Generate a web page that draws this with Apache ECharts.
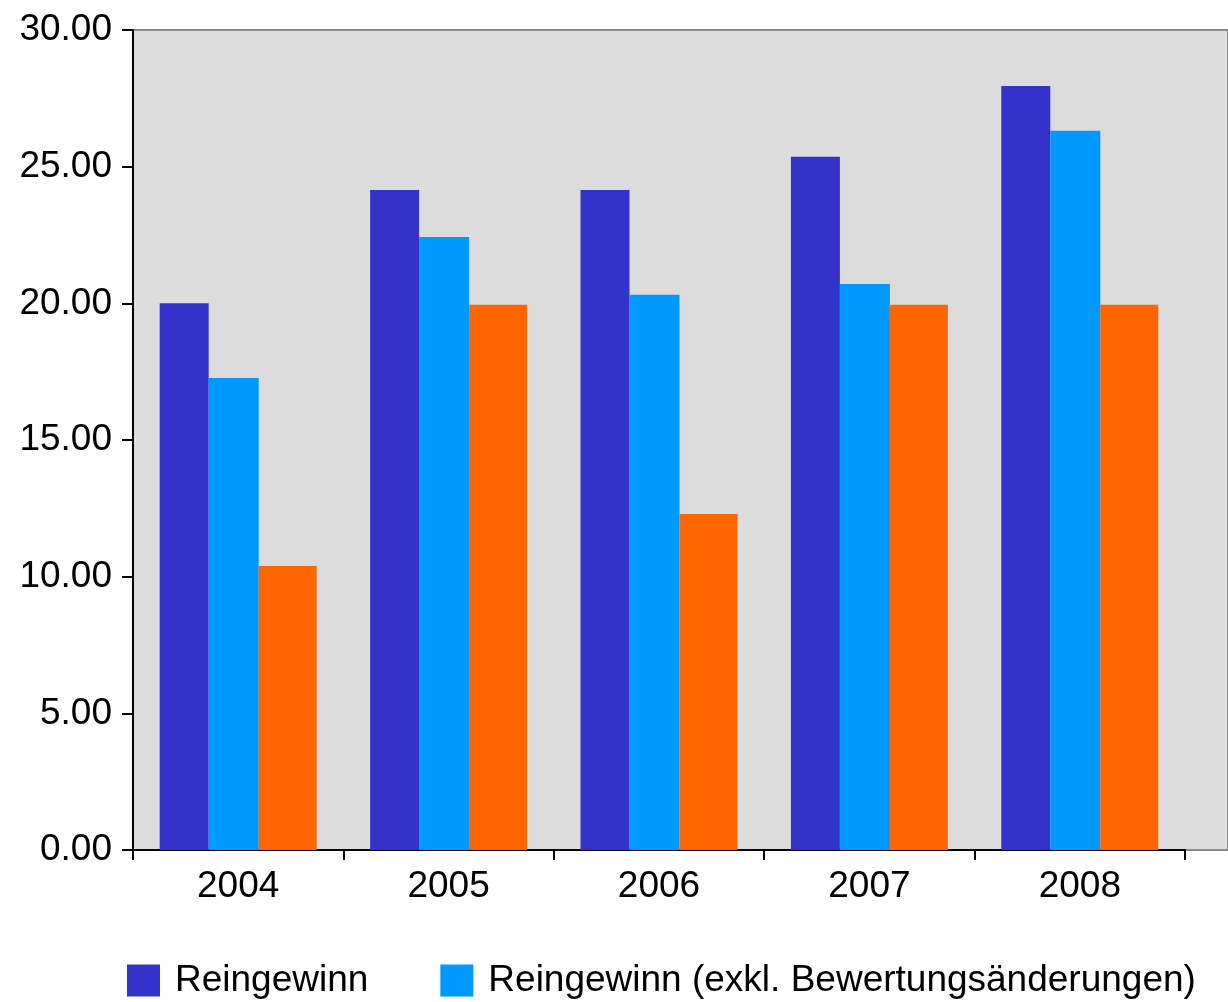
<!DOCTYPE html>
<html><head><meta charset="utf-8">
<script src="https://cdn.jsdelivr.net/npm/echarts@6/dist/echarts.min.js"></script>
<style>html,body{margin:0;padding:0;background:#fff}#c{width:1228px;height:1002px}</style>
</head><body><div id="c"></div>
<script>
const categories = ['2004', '2005', '2006', '2007', '2008'];
const reingewinn = [20.0, 24.15, 24.15, 25.36, 27.95];
const reingewinnExkl = [17.27, 22.43, 20.31, 20.71, 26.31];
const third = [10.39, 19.95, 12.29, 19.95, 19.95];
const yTicks = { min: 0, max: 30, interval: 5 };

const chart = echarts.init(document.getElementById('c'));
const font = 'Liberation Sans, Arial, sans-serif';
chart.setOption({
  animation: false,
  grid: [
    { left: 133, top: 30, right: -60, bottom: 152, show: true, backgroundColor: '#dcdcdc', borderColor: '#8a8a8a', borderWidth: 2, z: 0 },
    { left: 133, top: 30, width: 1052, bottom: 152 }
  ],
  legend: {
    data: ['Reingewinn', 'Reingewinn (exkl. Bewertungsänderungen)'],
    left: 127, top: 962, padding: 0, itemWidth: 33, itemHeight: 32, itemGap: 72,
    icon: 'rect',
    textStyle: { fontFamily: font, fontSize: 37, color: '#000', padding: [0, 0, 0, 10] }
  },
  xAxis: [
    { gridIndex: 0, type: 'value', show: false },
    { gridIndex: 1, type: 'category', data: categories,
      axisLine: { lineStyle: { color: '#000', width: 2 } },
      axisTick: { show: true, length: 10, lineStyle: { color: '#000', width: 2 } },
      axisLabel: { fontFamily: font, fontSize: 37, color: '#000', margin: 18 } }
  ],
  yAxis: [
    { gridIndex: 0, type: 'value', show: false },
    { gridIndex: 1, type: 'value', min: yTicks.min, max: yTicks.max, interval: yTicks.interval,
      splitLine: { show: false },
      axisLine: { show: true, lineStyle: { color: '#000', width: 2 } },
      axisTick: { show: true, length: 11, lineStyle: { color: '#000', width: 2 } },
      axisLabel: { fontFamily: font, fontSize: 37, color: '#000', margin: 21, formatter: v => v.toFixed(2) } }
  ],
  series: [
    { name: 'Reingewinn', type: 'bar', xAxisIndex: 1, yAxisIndex: 1, data: reingewinn, barWidth: 49, barGap: '0%',
      itemStyle: { color: '#3333cc' } },
    { name: 'Reingewinn (exkl. Bewertungsänderungen)', type: 'bar', xAxisIndex: 1, yAxisIndex: 1, data: reingewinnExkl, barWidth: 50, barGap: '0%',
      itemStyle: { color: '#0099ff' } },
    { name: 'Dividende', type: 'bar', xAxisIndex: 1, yAxisIndex: 1, data: third, barWidth: 58, barGap: '0%',
      itemStyle: { color: '#ff6600' } }
  ]
});
</script></body></html>
